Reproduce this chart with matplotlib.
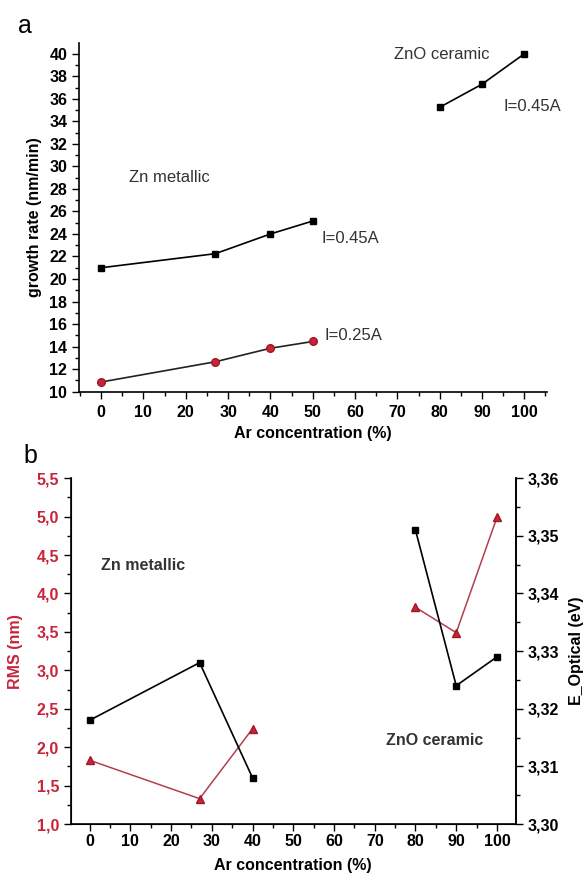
import matplotlib
matplotlib.use('Agg')
import matplotlib.pyplot as plt
from matplotlib.ticker import MultipleLocator, FuncFormatter

plt.rcParams['font.family'] = ['Liberation Sans', 'DejaVu Sans']

# panel a: growth rate vs Ar concentration
ar_zn = [0, 27, 40, 50]
rate_045 = [21.0, 22.25, 24.0, 25.15]
rate_025 = [10.85, 12.65, 13.85, 14.45]
ar_zno = [80, 90, 100]
rate_zno = [35.25, 37.3, 40.0]

# panel b: RMS roughness and optical gap
ar_b1 = [0, 27, 40]
ar_b2 = [80, 90, 100]
rms_zn = [1.83, 1.33, 2.24]
rms_zno = [3.82, 3.49, 4.99]
egap_zn = [3.318, 3.328, 3.308]
egap_zno = [3.351, 3.324, 3.329]

red = '#c8243a'
tick_fs = 11.5
lab_fs = 11.5

fig = plt.figure(figsize=(5.86, 8.8), dpi=100)


def style_ticks(ax, axis='both'):
    ax.tick_params(axis=axis, which='major', direction='out', length=5, width=1,
                   labelsize=tick_fs)
    ax.tick_params(axis=axis, which='minor', direction='out', length=3, width=1)
    for lab in ax.get_xticklabels() + ax.get_yticklabels():
        lab.set_fontweight('bold')


# ---------- panel a ----------
ax = fig.add_axes([0.135, 0.555, 0.798, 0.396])
ax.plot(ar_zn, rate_045, color='black', lw=1.2, marker='s', ms=5, mfc='black', mec='black')
ax.plot(ar_zn, rate_025, color='#222222', lw=1.2, marker='o', ms=5.5, mfc=red, mec='#a01828')
ax.plot(ar_zno, rate_zno, color='black', lw=1.2, marker='s', ms=5, mfc='black', mec='black')
ax.set_xlim(-5.2, 105.3)
ax.set_ylim(10, 40.95)
ax.xaxis.set_major_locator(MultipleLocator(10))
ax.xaxis.set_minor_locator(MultipleLocator(5))
ax.yaxis.set_major_locator(MultipleLocator(2))
ax.yaxis.set_minor_locator(MultipleLocator(1))
ax.spines['top'].set_visible(False)
ax.spines['right'].set_visible(False)
ax.spines['left'].set_linewidth(1.2)
ax.spines['bottom'].set_linewidth(1.2)
ax.tick_params(axis='x', pad=5)
style_ticks(ax)
ax.set_xlabel('Ar concentration (%)', fontsize=lab_fs, fontweight='bold', labelpad=4)
ax.set_ylabel('growth rate (nm/min)', fontsize=lab_fs, fontweight='bold', labelpad=5)
ax.text(6.6, 29.0, 'Zn metallic', fontsize=12, color='#333333', va='center')
ax.text(69.1, 39.9, 'ZnO ceramic', fontsize=12, color='#333333', va='center')
ax.text(95.0, 35.3, 'I=0.45A', fontsize=12, color='#333333', va='center')
ax.text(52.1, 23.6, 'I=0.45A', fontsize=12, color='#333333', va='center')
ax.text(52.9, 15.0, 'I=0.25A', fontsize=12, color='#333333', va='center')
fig.text(25 / 586, 1 - 33 / 880, 'a', fontsize=18, ha='center', va='baseline')

# ---------- panel b ----------
bx = fig.add_axes([0.121, 0.0636, 0.759, 0.393])
bx.plot(ar_b1, rms_zn, color='#b04050', lw=1.1, marker='^', ms=6, mfc=red, mec='#a01828')
bx.plot(ar_b2, rms_zno, color='#b04050', lw=1.1, marker='^', ms=6, mfc=red, mec='#a01828')
bx.set_xlim(-4.6, 104.6)
bx.set_ylim(1.0, 5.5)
bx.xaxis.set_major_locator(MultipleLocator(10))
bx.xaxis.set_minor_locator(MultipleLocator(5))
bx.yaxis.set_major_locator(MultipleLocator(0.5))
bx.yaxis.set_minor_locator(MultipleLocator(0.25))
bx.yaxis.set_major_formatter(FuncFormatter(lambda v, p: '{:.1f}'.format(v).replace('.', ',')))
bx.spines['top'].set_visible(False)
for s in ['left', 'bottom', 'right']:
    bx.spines[s].set_linewidth(1.2)
bx.tick_params(axis='x', pad=2)
style_ticks(bx)
bx.tick_params(axis='y', labelcolor=red)
bx.set_xlabel('Ar concentration (%)', fontsize=lab_fs, fontweight='bold', labelpad=7)
bx.set_ylabel('RMS (nm)', fontsize=lab_fs, fontweight='bold', color=red, labelpad=10)
bx.text(2.9, 4.36, 'Zn metallic', fontsize=11.5, fontweight='bold', color='#333333', va='center')
bx.text(84.6, 2.09, 'ZnO ceramic', fontsize=11.5, fontweight='bold', color='#333333',
        va='center', ha='center')

tx = bx.twinx()
tx.plot(ar_b1, egap_zn, color='black', lw=1.2, marker='s', ms=5, mfc='black', mec='black')
tx.plot(ar_b2, egap_zno, color='black', lw=1.2, marker='s', ms=5, mfc='black', mec='black')
tx.set_ylim(3.30, 3.36)
tx.yaxis.set_major_locator(MultipleLocator(0.01))
tx.yaxis.set_minor_locator(MultipleLocator(0.005))
tx.yaxis.set_major_formatter(FuncFormatter(lambda v, p: '{:.2f}'.format(v).replace('.', ',')))
tx.spines['top'].set_visible(False)
tx.spines['right'].set_linewidth(1.2)
style_ticks(tx, axis='y')
tx.set_ylabel('E_Optical (eV)', fontsize=lab_fs, fontweight='bold', labelpad=7)
fig.text(30 / 586, 1 - 463 / 880, 'b', fontsize=18, ha='center', va='baseline')

fig.savefig('out.png', dpi=100)
